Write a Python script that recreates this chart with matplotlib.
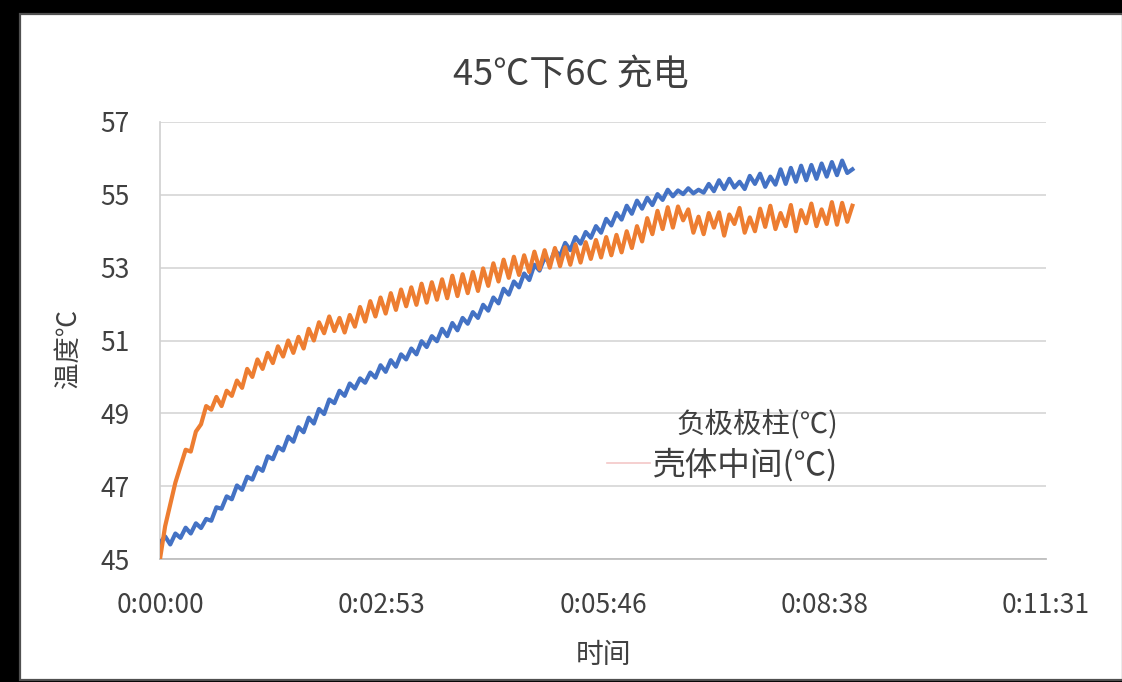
import numpy as np
import matplotlib
matplotlib.use("Agg")
import matplotlib.pyplot as plt
from matplotlib.patches import Rectangle
from matplotlib.lines import Line2D
from matplotlib.ticker import FuncFormatter

plt.rcParams['font.family'] = ['Noto Sans CJK SC', 'DejaVu Sans']

title = "45℃下6C 充电"
x_label = "时间"
y_label = "温度℃"
series_names = ["负极极柱(℃)", "壳体中间(℃)"]
sample_interval_s = 4
x_ticks_s = [0, 172.75, 345.5, 518.25, 691]
y_ticks = [45, 47, 49, 51, 53, 55, 57]

neg_terminal = [
    45.45, 45.62, 45.40, 45.70, 45.58, 45.86, 45.70, 45.98, 45.85, 46.10,
    46.05, 46.42, 46.38, 46.72, 46.64, 47.02, 46.90, 47.26, 47.18, 47.52,
    47.42, 47.82, 47.74, 48.08, 47.98, 48.36, 48.22, 48.62, 48.48, 48.88,
    48.72, 49.12, 48.98, 49.38, 49.28, 49.62, 49.48, 49.82, 49.68, 49.96,
    49.84, 50.12, 49.98, 50.32, 50.14, 50.46, 50.28, 50.62, 50.48, 50.78,
    50.62, 50.98, 50.82, 51.12, 50.98, 51.32, 51.12, 51.48, 51.28, 51.62,
    51.46, 51.78, 51.62, 51.98, 51.82, 52.18, 52.02, 52.42, 52.26, 52.62,
    52.46, 52.84, 52.66, 53.08, 52.92, 53.28, 53.12, 53.48, 53.32, 53.68,
    53.48, 53.84, 53.66, 53.98, 53.82, 54.14, 53.96, 54.34, 54.16, 54.50,
    54.32, 54.70, 54.48, 54.84, 54.62, 54.92, 54.72, 55.02, 54.86, 55.14,
    54.96, 55.12, 55.02, 55.18, 55.04, 55.14, 55.06, 55.30, 55.10, 55.40,
    55.16, 55.44, 55.20, 55.36, 55.16, 55.52, 55.30, 55.58, 55.22, 55.50,
    55.28, 55.70, 55.30, 55.74, 55.36, 55.80, 55.40, 55.82, 55.44, 55.86,
    55.50, 55.90, 55.54, 55.94, 55.60, 55.70,
]

case_middle = [
    45.00, 45.90, 46.50, 47.10, 47.55, 48.00, 47.95, 48.50, 48.70, 49.20,
    49.10, 49.45, 49.20, 49.62, 49.48, 49.90, 49.70, 50.22, 50.00, 50.48,
    50.22, 50.66, 50.38, 50.84, 50.56, 51.00, 50.66, 51.10, 50.78, 51.32,
    51.00, 51.50, 51.20, 51.66, 51.26, 51.62, 51.22, 51.70, 51.38, 51.92,
    51.52, 52.08, 51.66, 52.18, 51.74, 52.30, 51.84, 52.40, 51.94, 52.46,
    51.98, 52.56, 52.04, 52.60, 52.12, 52.68, 52.16, 52.78, 52.22, 52.82,
    52.30, 52.88, 52.36, 52.98, 52.50, 53.12, 52.62, 53.22, 52.72, 53.30,
    52.80, 53.34, 52.88, 53.44, 52.96, 53.48, 53.00, 53.54, 53.04, 53.56,
    53.08, 53.64, 53.14, 53.70, 53.24, 53.76, 53.28, 53.84, 53.34, 53.90,
    53.42, 54.00, 53.54, 54.14, 53.72, 54.36, 53.92, 54.56, 54.06, 54.66,
    54.10, 54.68, 54.30, 54.60, 53.96, 54.40, 53.92, 54.50, 54.10, 54.52,
    53.88, 54.46, 54.20, 54.64, 53.96, 54.38, 54.00, 54.62, 54.12, 54.70,
    54.06, 54.50, 54.14, 54.72, 54.00, 54.58, 54.22, 54.76, 54.14, 54.60,
    54.20, 54.80, 54.18, 54.78, 54.26, 54.70,
]

W, H = 1122, 682
fig = plt.figure(figsize=(W / 100, H / 100), dpi=100, facecolor='black')

# white chart area with dark frame
fig.patches.append(Rectangle((20 / W, 2 / H), (W - 19) / W, (680 - 14) / H,
                             transform=fig.transFigure, facecolor='white',
                             edgecolor='#505050', linewidth=1.6, zorder=-10))

ax = fig.add_axes([160 / W, 1 - 559 / H, (1046 - 160) / W, (559 - 122) / H])
ax.set_facecolor('white')

t1 = np.arange(len(neg_terminal)) * sample_interval_s
t2 = np.arange(len(case_middle)) * sample_interval_s
ax.plot(t1, neg_terminal, color='#4472C4', lw=3.0, solid_joinstyle='round', zorder=3)
ax.plot(t2, case_middle, color='#ED7D31', lw=3.0, solid_joinstyle='round', zorder=4)

ax.set_xlim(0, 691)
ax.set_ylim(45, 57)
ax.set_yticks(y_ticks)
ax.set_xticks(x_ticks_s)


def fmt_time(v, pos):
    s = int(round(v))
    return f"{s // 3600}:{(s % 3600) // 60:02d}:{s % 60:02d}"


ax.xaxis.set_major_formatter(FuncFormatter(fmt_time))
ax.yaxis.grid(True, color='#D9D9D9', lw=1.3)
ax.set_axisbelow(True)
for side in ['top', 'right']:
    ax.spines[side].set_visible(False)
ax.spines['left'].set_color('#D0D0D0')
ax.spines['bottom'].set_color('#BFBFBF')
ax.spines['left'].set_linewidth(1.2)
ax.spines['bottom'].set_linewidth(1.3)
ax.tick_params(axis='both', length=0, labelsize=19, labelcolor='#404040')
ax.tick_params(axis='y', pad=22)
ax.tick_params(axis='x', pad=24)

fig.text(571 / W, 1 - 75 / H, title, ha='center', va='center', fontsize=26, color='#404040')
fig.text(603 / W, 1 - 655 / H, x_label, ha='center', va='center', fontsize=20, color='#404040')
fig.text(68 / W, 1 - 348 / H, y_label, ha='center', va='center', rotation=90, fontsize=19,
         color='#404040')

# legend (as drawn in the reference)
ax.text((838 - 160) / 886, (559 - 424) / 437, series_names[0], transform=ax.transAxes,
        ha='right', va='center', fontsize=20.5, color='#404040')
ax.text((838 - 160) / 886, (559 - 465) / 437, series_names[1], transform=ax.transAxes,
        ha='right', va='center', fontsize=23.5, color='#404040')
ax.add_line(Line2D([(607 - 160) / 886, (650 - 160) / 886], [(559 - 463) / 437] * 2,
                   transform=ax.transAxes, color='#F4C7C7', lw=1.2))

fig.savefig('out.png', dpi=100, facecolor='black')
